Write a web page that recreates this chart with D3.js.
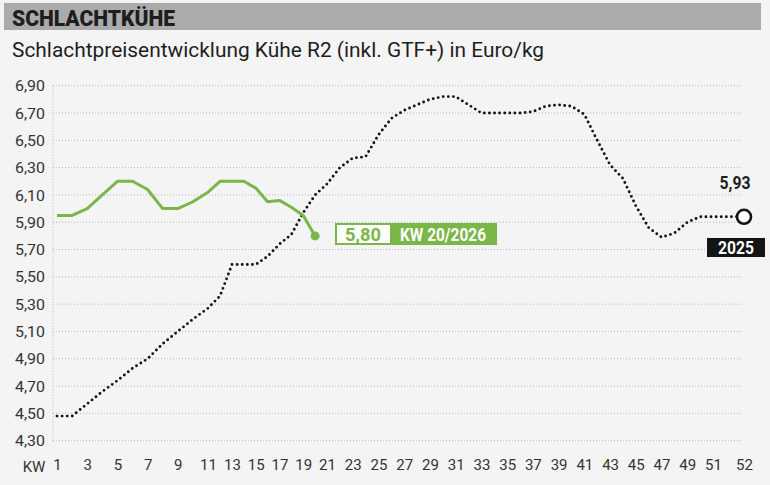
<!DOCTYPE html>
<html>
<head>
<meta charset="utf-8">
<script src="https://cdn.jsdelivr.net/npm/d3@7"></script>
<style>
  body { margin: 0; background: #fff; }
  svg { display: block; }
  text { font-family: Roboto, "Noto Sans", sans-serif; }
</style>
</head>
<body>
<div id="chart"></div>
<script>
// Schlachtpreise Kühe R2, Euro/kg je Kalenderwoche
const weeks2025 = d3.range(1, 53);
const prices2025 = [
  4.48, 4.48, 4.57, 4.66, 4.74, 4.83, 4.90, 5.01, 5.10, 5.19,
  5.27, 5.36, 5.59, 5.59, 5.59, 5.65, 5.74, 5.81, 5.97, 6.10,
  6.18, 6.30, 6.37, 6.38, 6.54, 6.66, 6.72, 6.76, 6.80, 6.82,
  6.82, 6.76, 6.70, 6.70, 6.70, 6.70, 6.71, 6.75, 6.76, 6.75,
  6.69, 6.50, 6.32, 6.22, 6.02, 5.86, 5.79, 5.82, 5.90, 5.94,
  5.94, 5.94
];
const lastLabel2025 = "5,93";
const weeks2026 = d3.range(1, 21);
const prices2026 = [
  5.95, 5.95, 6.00, 6.10, 6.20, 6.20, 6.14, 6.00, 6.00, 6.05,
  6.12, 6.20, 6.20, 6.20, 6.15, 6.05, 6.06, 6.01, 5.95, 5.80
];
const yTicks = [4.3, 4.5, 4.7, 4.9, 5.1, 5.3, 5.5, 5.7, 5.9, 6.1, 6.3, 6.5, 6.7, 6.9];
const xTicks = [1, 3, 5, 7, 9, 11, 13, 15, 17, 19, 21, 23, 25, 27, 29, 31, 33, 35, 37, 39, 41, 43, 45, 47, 49, 51, 52];

const W = 770, H = 485;
const green = "#7ab648";
const fmt = v => d3.format(".2f")(v).replace(".", ",");

const svg = d3.select("#chart").append("svg").attr("width", W).attr("height", H);

svg.append("rect").attr("width", W).attr("height", H).attr("fill", "#f4f4f4");

// header
svg.append("rect").attr("x", 4).attr("y", 3).attr("width", 757).attr("height", 27).attr("fill", "#ababab");
svg.append("text").attr("x", 12).attr("y", 25.5)
  .attr("font-size", 22).attr("font-weight", 900).attr("fill", "#1e1e1e")
  .attr("textLength", 163).attr("lengthAdjust", "spacingAndGlyphs")
  .text("SCHLACHTKÜHE");
svg.append("text").attr("x", 12).attr("y", 57)
  .attr("font-size", 21).attr("fill", "#1e1e1e")
  .attr("textLength", 532).attr("lengthAdjust", "spacingAndGlyphs")
  .text("Schlachtpreisentwicklung Kühe R2 (inkl. GTF+) in Euro/kg");

// scales (the x spacing of the original is not uniform)
const x = d3.scaleLinear().domain([1, 11, 13, 21, 51, 52]).range([57, 208, 232, 327, 713, 744]);
const y = d3.scaleLinear().domain([4.3, 6.9]).range([440.7, 85.7]);

// grid
const grid = svg.append("g");
grid.selectAll("line").data(yTicks).join("line")
  .attr("x1", 53).attr("x2", 742)
  .attr("y1", d => y(d)).attr("y2", d => y(d))
  .attr("stroke", "#b4b4b4").attr("stroke-width", 1).attr("stroke-dasharray", "1,2");
grid.append("line").attr("x1", 53).attr("x2", 53).attr("y1", y(6.9)).attr("y2", y(4.3))
  .attr("stroke", "#b4b4b4").attr("stroke-dasharray", "1,2");

// y axis
const yAxis = svg.append("g").attr("transform", "translate(45,0)")
  .call(d3.axisLeft(y).tickValues(yTicks).tickFormat(fmt).tickSize(0).tickPadding(0));
yAxis.select(".domain").remove();
yAxis.selectAll("text").attr("font-size", 15).attr("fill", "#333")
  .style("font-family", "Roboto, sans-serif").attr("dy", "0.34em")
  .attr("textLength", 30).attr("lengthAdjust", "spacingAndGlyphs");

// x axis
const xAxis = svg.append("g").attr("transform", "translate(0,459)")
  .call(d3.axisBottom(x).tickValues(xTicks).tickFormat(d3.format("d")).tickSize(0).tickPadding(0));
xAxis.select(".domain").remove();
xAxis.selectAll("text").attr("font-size", 15).attr("fill", "#333")
  .style("font-family", "Roboto, sans-serif").attr("dy", "0.71em");
svg.append("text").attr("x", 34).attr("y", 472).attr("text-anchor", "middle")
  .attr("font-size", 15).attr("fill", "#333").text("KW");

// 2025 line, dotted
const line = d3.line().x(d => x(d[0])).y(d => y(d[1]));
svg.append("path")
  .datum(d3.zip(weeks2025, prices2025))
  .attr("d", line)
  .attr("fill", "none").attr("stroke", "#141414").attr("stroke-width", 2.9)
  .attr("stroke-linecap", "round").attr("stroke-dasharray", "0 5.1");

// 2026 line
svg.append("path")
  .datum(d3.zip(weeks2026, prices2026))
  .attr("d", line)
  .attr("fill", "none").attr("stroke", green).attr("stroke-width", 3)
  .attr("stroke-linejoin", "round");

const last26 = [weeks2026[weeks2026.length - 1], prices2026[prices2026.length - 1]];
svg.append("circle").attr("cx", x(last26[0])).attr("cy", y(last26[1])).attr("r", 4.5).attr("fill", green);

const last25 = [weeks2025[weeks2025.length - 1], prices2025[prices2025.length - 1]];
svg.append("circle").attr("cx", x(last25[0])).attr("cy", y(last25[1])).attr("r", 7)
  .attr("fill", "#fff").attr("stroke", "#141414").attr("stroke-width", 2.6);

// label 2026
const lb = svg.append("g").attr("transform", "translate(335,223)");
lb.append("rect").attr("width", 162).attr("height", 22).attr("fill", green);
lb.append("rect").attr("x", 2).attr("y", 2).attr("width", 53).attr("height", 18).attr("fill", "#fff");
lb.append("text").attr("x", 28).attr("y", 17.5).attr("text-anchor", "middle")
  .attr("font-size", 18).attr("font-weight", 700).attr("fill", green)
  .attr("textLength", 36).attr("lengthAdjust", "spacingAndGlyphs").text(fmt(last26[1]));
lb.append("text").attr("x", 108).attr("y", 17.5).attr("text-anchor", "middle")
  .attr("font-size", 18).attr("font-weight", 700).attr("fill", "#fff")
  .attr("textLength", 86).attr("lengthAdjust", "spacingAndGlyphs").text("KW " + last26[0] + "/2026");

// label 2025
svg.append("text").attr("x", 735).attr("y", 189).attr("text-anchor", "middle")
  .attr("font-size", 18).attr("font-weight", 700).attr("fill", "#1e1e1e")
  .attr("textLength", 31).attr("lengthAdjust", "spacingAndGlyphs").text(lastLabel2025);
svg.append("rect").attr("x", 707).attr("y", 238).attr("width", 58).attr("height", 19).attr("fill", "#141414");
svg.append("text").attr("x", 736).attr("y", 254).attr("text-anchor", "middle")
  .attr("font-size", 18).attr("font-weight", 700).attr("fill", "#fff")
  .attr("textLength", 36).attr("lengthAdjust", "spacingAndGlyphs").text("2025");
</script>
</body>
</html>
